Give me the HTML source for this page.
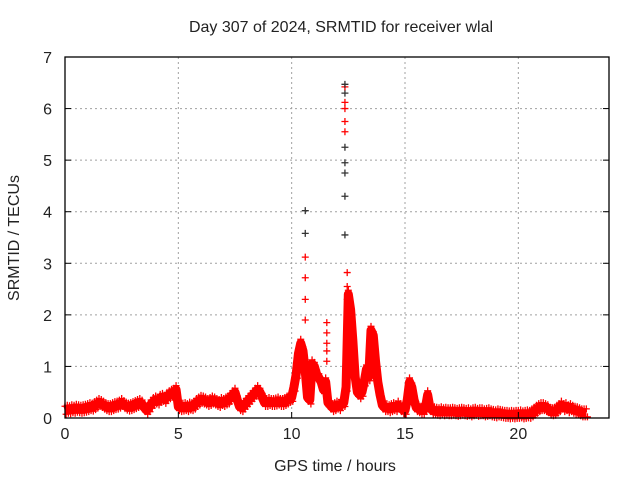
<!DOCTYPE html>
<html><head><meta charset="utf-8"><style>
body{margin:0;background:#fff}
svg text{font-family:"Liberation Sans",sans-serif;font-size:16px;fill:#222}
</style></head><body>
<svg id="c" width="640" height="480">
<text x="341" y="32" text-anchor="middle">Day 307 of 2024, SRMTID for receiver wlal</text>
<text x="335" y="471" text-anchor="middle">GPS time / hours</text>
<text transform="translate(19,238) rotate(-90)" text-anchor="middle">SRMTID / TECUs</text>
<g id="grid"></g>
<g id="marks"></g>
<rect x="65" y="57" width="544" height="361" fill="none" stroke="#000" stroke-width="1.3"/>
<g id="ticks"></g>
</svg>
<script>
const xTicks=[0,5,10,15,20];
const yTicks=[0,1,2,3,4,5,6,7];
// values every dt hours starting at tStart
const tStart=0, dt=0.1;
const vals=[0.15,0.17,0.16,0.18,0.17,0.19,0.18,0.17,0.18,0.19,
0.2,0.22,0.21,0.24,0.27,0.3,0.28,0.25,0.22,0.2,
0.2,0.22,0.24,0.25,0.27,0.3,0.26,0.23,0.21,0.22,
0.24,0.26,0.28,0.3,0.27,0.2,0.15,0.2,0.27,0.32,
0.35,0.33,0.38,0.4,0.36,0.42,0.45,0.48,0.5,0.55,
0.22,0.2,0.21,0.22,0.2,0.23,0.22,0.25,0.3,0.33,
0.36,0.35,0.33,0.3,0.32,0.35,0.33,0.3,0.28,0.32,
0.3,0.33,0.35,0.4,0.45,0.5,0.35,0.22,0.2,0.25,
0.3,0.35,0.4,0.45,0.5,0.55,0.5,0.4,0.3,0.3,
0.32,0.3,0.3,0.31,0.33,0.3,0.3,0.32,0.35,0.38,
0.4,0.6,0.85,1.25,1.45,1.3,0.9,0.4,0.35,1.05,
1.0,0.85,0.78,0.7,0.55,0.7,0.3,0.25,0.2,0.22,
0.25,0.22,0.28,0.3,0.6,2.4,2.1,1.5,0.8,0.5,
0.45,0.5,0.7,0.95,0.8,1.7,1.6,1.1,0.7,0.45,
0.25,0.2,0.2,0.18,0.2,0.22,0.2,0.25,0.2,0.16,
0.15,0.35,0.7,0.6,0.35,0.2,0.18,0.15,0.15,0.2,
0.45,0.2,0.15,0.14,0.13,0.12,0.14,0.12,0.13,0.12,
0.12,0.13,0.12,0.11,0.12,0.13,0.12,0.11,0.12,0.1,
0.12,0.13,0.11,0.12,0.12,
0.1,0.11,0.12,0.1,0.09,0.08,0.1,0.09,0.08,0.07,
0.07,0.06,0.07,0.06,0.07,
0.07,0.08,0.06,0.07,0.08,0.07,0.1,0.13,0.17,0.2,
0.22,0.22,0.2,0.18,0.13,0.12,0.13,0.17,0.2,0.25,
0.2,0.22,0.18,0.2,0.17,0.15,0.14,0.12,0.1,0.1,0.1];
const spikeX=[10.6,10.6,10.6,10.6,10.6,10.6,11.55,11.55,11.55,11.55,11.55,
12.35,12.35,12.35,12.35,12.35,12.35,12.35,12.35,12.35,12.35,12.35,12.35,
12.45,12.45,12.45,12.45,12.45,12.45,12.4,12.4,10.55,10.5];
const spikeY=[1.9,2.3,2.72,3.12,3.58,4.02,1.85,1.65,1.45,1.3,1.1,
3.55,4.3,4.75,4.95,5.25,5.55,5.75,6.0,6.12,6.3,6.42,6.47,
2.82,2.55,2.3,2.02,1.78,1.4,1.1,0.7,1.2,1.0];
const spikeBlack=[0,0,0,0,1,1,0,0,0,0,0,1,1,1,1,1,0,0,0,0,1,0,1,0,0,0,0,0,0,0,0,0,0];
const X0=65,X1=609,Y0=418,Y1=57,xmax=24,ymax=7;
const sx=v=>X0+v/xmax*(X1-X0), sy=v=>Y0-v/ymax*(Y0-Y1);
const tAt=i=>tStart+i*dt;
const NS='http://www.w3.org/2000/svg';
const grid=document.getElementById('grid'),ticks=document.getElementById('ticks'),marks=document.getElementById('marks');
function mk(tag,at,p){const e=document.createElementNS(NS,tag);for(const k in at)e.setAttribute(k,at[k]);p.appendChild(e);return e;}
xTicks.forEach(v=>{const x=sx(v);
 if(v>0){const g=mk('line',{x1:x,x2:x,y1:Y1,y2:Y0,stroke:'#a0a0a0','stroke-dasharray':'2,3'},grid);
 
 }
 const tk=mk('line',{x1:x,x2:x,y1:Y0,y2:Y0-6,stroke:'#000'},ticks);
 
 
 const t=mk('text',{x:x,y:Y0+21,'text-anchor':'middle'},ticks);t.textContent=v;
 
 });
yTicks.forEach(v=>{const y=sy(v);
 if(v>0&&v<7){const g=mk('line',{x1:X0,x2:X1,y1:y,y2:y,stroke:'#a0a0a0','stroke-dasharray':'2,3'},grid);
 
 }
 const tk=mk('line',{x1:X0,x2:X0+6,y1:y,y2:y,stroke:'#000'},ticks);
 
 
 const tk2=mk('line',{x1:X1,x2:X1-6,y1:y,y2:y,stroke:'#000'},ticks);
 
 
 const t=mk('text',{x:X0-13,y:y+6,'text-anchor':'end'},ticks);t.textContent=v;
 
 });
let pts=vals.map((v,i)=>sx(tAt(i))+','+sy(v)).join(' ');
const band=mk('polyline',{points:pts,fill:'none',stroke:'#f00','stroke-width':9,'stroke-linejoin':'round'},marks);


function plus(x,y,col){const p=mk('path',{d:`M${x-3.5},${y}h7M${x},${y-3.5}v7`,stroke:col,'stroke-width':1.3},marks);
 
 }
vals.forEach((v,i)=>{plus(sx(tAt(i)),sy(v)-4,'#f00');plus(sx(tAt(i))+1.1,sy(v)+4,'#f00');});
spikeX.forEach((x,i)=>plus(sx(x),sy(spikeY[i]),spikeBlack[i]?'#333':'#f00'));
</script>
</body></html>
